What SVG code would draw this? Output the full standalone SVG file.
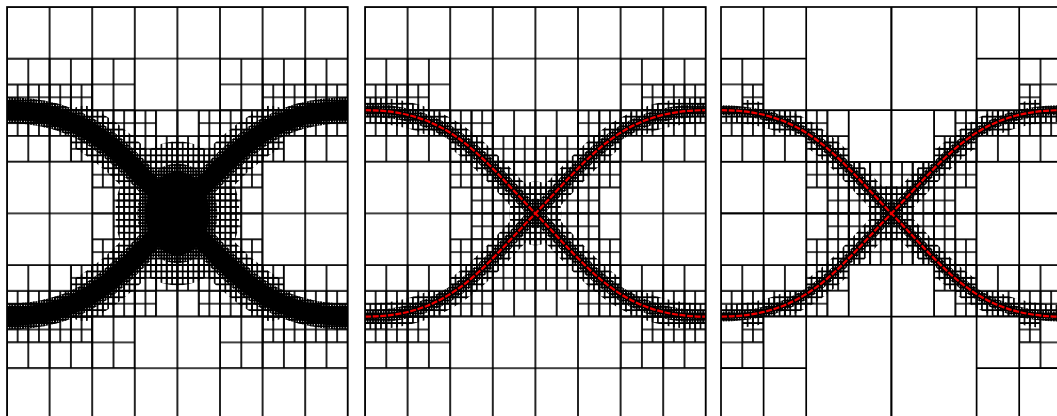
<svg xmlns="http://www.w3.org/2000/svg" width="1057" height="416" viewBox="0 0 1057 416">
<style>
.ln{fill:none;stroke:#000;stroke-width:1.7}
.mk{fill:none;stroke:#fff;stroke-linecap:round;stroke-linejoin:round}
.bk{fill:none;stroke:#000}
.red{fill:none;stroke:#f00000;stroke-width:2.2;stroke-dasharray:6 1.6}
</style>
<defs>
<pattern id="P0" patternUnits="userSpaceOnUse" width="42.6" height="51.6"><path class="ln" d="M0,0H42.6V51.6H0Z"/></pattern>
<pattern id="P1" patternUnits="userSpaceOnUse" width="21.3" height="25.8"><path class="ln" d="M0,0H21.3V25.8H0Z"/></pattern>
<pattern id="P2" patternUnits="userSpaceOnUse" width="10.65" height="12.9"><path class="ln" d="M0,0H10.65V12.9H0Z"/></pattern>
<pattern id="P3" patternUnits="userSpaceOnUse" width="5.325" height="6.45"><path class="ln" d="M0,0H5.325V6.45H0Z"/></pattern>
<pattern id="P4" patternUnits="userSpaceOnUse" width="2.6625" height="3.225"><path class="ln" d="M0,0H2.6625V3.225H0Z"/></pattern>
<path id="c1" d="M0,103.2C85.2,103.2 115.02,149.38 170.4,206.4S255.6,309.6 340.8,309.6"/>
<path id="c2" d="M0,309.6C85.2,309.6 115.02,263.42 170.4,206.4S255.6,103.2 340.8,103.2"/>
<path id="m1" d="M76.7,120.7L96.3,133.6 114.6,148.6 132.5,166.2 150.8,185.8 170.4,206.4 190,227 208.3,246.6 226.2,264.2 244.5,279.2 264.1,292.1"/>
<path id="m2" d="M76.7,292.1L96.3,279.2 114.6,264.2 132.5,246.6 150.8,227 170.4,206.4 190,185.8 208.3,166.2 226.2,148.6 244.5,133.6 264.1,120.7"/>
<mask id="M1" maskUnits="userSpaceOnUse" x="-30" y="-30" width="400" height="480">
<use href="#c1" class="mk" stroke-width="26"/><use href="#c2" class="mk" stroke-width="26"/>
<use href="#m1" class="mk" stroke-width="44"/><use href="#m2" class="mk" stroke-width="44"/>
<ellipse cx="170.4" cy="206.4" rx="62" ry="72" fill="#fff"/>
</mask>
<mask id="N1" maskUnits="userSpaceOnUse" x="-30" y="-30" width="400" height="480">
<use href="#c1" class="mk" stroke-width="26"/><use href="#c2" class="mk" stroke-width="26"/>
<ellipse cx="170.4" cy="206.4" rx="40" ry="50" fill="#fff"/>
</mask>
<mask id="M2" maskUnits="userSpaceOnUse" x="-30" y="-30" width="400" height="480">
<use href="#c1" class="mk" stroke-width="26"/><use href="#c2" class="mk" stroke-width="26"/>
<ellipse cx="170.4" cy="206.4" rx="26" ry="32" fill="#fff"/>
</mask>
<mask id="N2" maskUnits="userSpaceOnUse" x="-30" y="-30" width="400" height="480">
<use href="#c1" class="mk" stroke-width="13"/><use href="#c2" class="mk" stroke-width="13"/>
<ellipse cx="170.4" cy="206.4" rx="12" ry="15" fill="#fff"/>
</mask>
<mask id="M3" maskUnits="userSpaceOnUse" x="-30" y="-30" width="400" height="480">
<use href="#c1" class="mk" stroke-width="24"/><use href="#c2" class="mk" stroke-width="24"/>
<ellipse cx="170.4" cy="206.4" rx="22" ry="28" fill="#fff"/>
</mask>
<mask id="N3" maskUnits="userSpaceOnUse" x="-30" y="-30" width="400" height="480">
<use href="#c1" class="mk" stroke-width="10"/><use href="#c2" class="mk" stroke-width="10"/>
<ellipse cx="170.4" cy="206.4" rx="10" ry="12" fill="#fff"/>
</mask>
<g id="r1"><rect y="77.4" width="85.2" height="25.8"/><rect y="103.2" width="149.1" height="25.8"/><rect x="63.9" y="129" width="106.5" height="25.8"/><rect x="85.2" y="154.8" width="85.2" height="25.8"/><rect x="106.5" y="180.6" width="63.9" height="25.8"/></g>
<g id="r2"><rect y="77.4" width="63.9" height="25.8"/><rect y="103.2" width="127.8" height="25.8"/><rect x="85.2" y="129" width="85.2" height="25.8"/><rect x="85.2" y="154.8" width="85.2" height="25.8"/><rect x="106.5" y="180.6" width="63.9" height="25.8"/></g>
<g id="r3"><rect x="21.3" y="77.4" width="21.3" height="25.8"/><rect y="103.2" width="106.5" height="25.8"/><rect x="85.2" y="129" width="42.6" height="25.8"/><rect x="85.2" y="154.8" width="85.2" height="25.8"/><rect x="106.5" y="180.6" width="63.9" height="25.8"/></g>
<g id="q1">
<g fill="url(#P1)"><rect y="51.6" width="127.8" height="51.6"/><rect y="103.2" width="170.4" height="51.6"/><rect x="85.2" y="154.8" width="85.2" height="51.6"/></g>
<use href="#r1" fill="url(#P2)"/>
<use href="#r1" fill="url(#P3)" mask="url(#M1)"/>
</g>
<g id="q2">
<g fill="url(#P1)"><rect y="51.6" width="85.2" height="51.6"/><rect y="103.2" width="170.4" height="51.6"/><rect x="85.2" y="154.8" width="85.2" height="51.6"/></g>
<use href="#r2" fill="url(#P2)"/>
<use href="#r2" fill="url(#P3)" mask="url(#M2)"/>
</g>
<g id="q3">
<path class="ln" d="M42.6,0V206.4M85.2,0V206.4M127.8,103.2V206.4M170.4,0V206.4M0,51.6H85.2M0,103.2H170.4M0,154.8H170.4M0,206.4H170.4"/>
<g fill="url(#P1)"><rect y="51.6" width="42.6" height="51.6"/><rect y="103.2" width="127.8" height="51.6"/><rect x="85.2" y="154.8" width="85.2" height="51.6"/></g>
<use href="#r3" fill="url(#P2)"/>
<use href="#r3" fill="url(#P3)" mask="url(#M3)"/>
</g>
</defs>
<rect width="1057" height="416" fill="#fff"/>
<g id="panel-1" transform="translate(7,7)">
<rect width="340.8" height="412.8" fill="url(#P0)"/>
<use href="#q1"/><use href="#q1" transform="matrix(-1 0 0 1 340.8 0)"/><use href="#q1" transform="matrix(1 0 0 -1 0 412.8)"/><use href="#q1" transform="matrix(-1 0 0 -1 340.8 412.8)"/>
<rect width="340.8" height="412.8" fill="url(#P4)" mask="url(#N1)"/>
<use href="#c1" class="bk" stroke-width="19"/><use href="#c2" class="bk" stroke-width="19"/>
<ellipse cx="170.4" cy="206.4" rx="32" ry="42" fill="#000"/>
<rect class="ln" width="340.8" height="412.8"/>
</g>
<g id="panel-2" transform="translate(365,7)">
<rect width="340.8" height="412.8" fill="url(#P0)"/>
<use href="#q2"/><use href="#q2" transform="matrix(-1 0 0 1 340.8 0)"/><use href="#q2" transform="matrix(1 0 0 -1 0 412.8)"/><use href="#q2" transform="matrix(-1 0 0 -1 340.8 412.8)"/>
<rect width="340.8" height="412.8" fill="url(#P4)" mask="url(#N2)"/>
<use href="#c1" class="bk" stroke-width="5"/><use href="#c2" class="bk" stroke-width="5"/>
<use href="#c1" class="red"/><use href="#c2" class="red"/>
<rect class="ln" width="340.8" height="412.8"/>
</g>
<g id="panel-3" transform="translate(721,7)">
<use href="#q3"/><use href="#q3" transform="matrix(-1 0 0 1 340.8 0)"/><use href="#q3" transform="matrix(1 0 0 -1 0 412.8)"/><use href="#q3" transform="matrix(-1 0 0 -1 340.8 412.8)"/>
<rect width="340.8" height="412.8" fill="url(#P4)" mask="url(#N3)"/>
<use href="#c1" class="bk" stroke-width="5"/><use href="#c2" class="bk" stroke-width="5"/>
<use href="#c1" class="red"/><use href="#c2" class="red"/>
<rect class="ln" width="340.8" height="412.8"/>
</g>
</svg>
